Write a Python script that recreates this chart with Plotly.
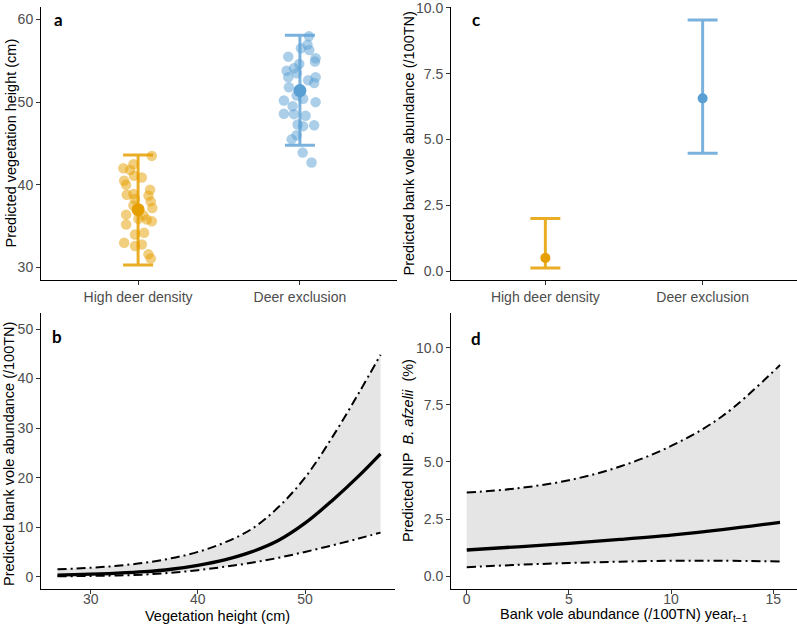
import plotly.graph_objects as go

# ---------------- data ----------------
categories = ["High deer density", "Deer exclusion"]

# panel a: predicted vegetation height (cm)
veg_mean = [37.0, 51.4]
veg_low = [30.3, 44.8]
veg_high = [43.6, 58.1]
veg_pts_high_deer = [43.5, 42.0, 42.5, 41.8, 40.9, 41.1, 40.5, 40.0, 38.8, 38.9, 39.4, 38.7,
                     38.0, 37.2, 37.5, 36.4, 35.2, 36.3, 35.8, 35.6, 34.0, 34.2, 33.0, 32.6,
                     32.8, 31.6, 31.1, 35.9, 38.3]
veg_jit_high_deer = [0.085, -0.091, -0.029, -0.049, 0.023, -0.025, -0.086, -0.074, -0.070, -0.029,
                     0.074, 0.064, 0.078, 0.088, -0.029, -0.074, -0.074, 0.033, 0.054, 0.085,
                     -0.019, 0.037, -0.086, -0.019, 0.023, 0.064, 0.078, 0.002, -0.020]
veg_pts_exclusion = [57.95, 56.95, 56.5, 56.3, 55.5, 55.3, 54.9, 54.6, 54.1, 53.8, 53.5, 53.0,
                     53.0, 52.65, 52.3, 51.8, 50.8, 50.4, 50.2, 50.0, 49.5, 48.6, 48.55, 48.35,
                     47.3, 47.1, 47.2, 46.0, 45.5, 43.9, 42.7]
veg_jit_exclusion = [0.056, 0.047, 0.006, 0.058, -0.072, 0.097, 0.093, -0.004, -0.037, -0.082,
                     -0.020, -0.072, 0.097, 0.051, 0.088, -0.068, -0.020, 0.020, -0.099, 0.097,
                     -0.045, -0.099, -0.037, 0.035, -0.014, 0.020, 0.088, -0.020, -0.051, 0.017,
                     0.072]

# panel c: predicted bank vole abundance (/100TN)
vole_mean = [0.50, 6.56]
vole_low = [0.12, 4.47]
vole_high = [2.0, 9.54]

# panel b: vole abundance vs vegetation height
b_x = [26.9, 30, 32.5, 35, 37.5, 40, 42.5, 45, 47.5, 50, 52.5, 55, 57.05]
b_fit = [0.3, 0.5, 0.7, 1.0, 1.5, 2.3, 3.4, 5.0, 7.3, 10.8, 15.3, 20.3, 24.8]
b_upr = [1.5, 1.8, 2.2, 2.8, 3.7, 5.0, 6.9, 9.6, 14.0, 20.0, 28.0, 37.0, 44.8]
b_lwr = [0.08, 0.15, 0.25, 0.42, 0.8, 1.3, 2.0, 2.8, 3.8, 5.0, 6.3, 7.7, 8.9]

# panel d: NIP B. afzelii vs vole abundance year t-1
d_x = [0, 2.5, 5, 7.5, 10, 12.5, 15.33]
d_fit = [1.15, 1.29, 1.44, 1.61, 1.80, 2.04, 2.36]
d_upr = [3.66, 3.85, 4.20, 4.80, 5.70, 7.00, 9.24]
d_lwr = [0.40, 0.50, 0.58, 0.64, 0.68, 0.68, 0.65]

# ---------------- styling ----------------
ORANGE = "#E69F00"
BLUE = "#5A9FD4"
ORANGE_BAR = "rgba(230,159,0,0.85)"
BLUE_BAR = "rgba(90,159,212,0.8)"
ORANGE_PT = "rgba(230,159,0,0.5)"
BLUE_PT = "rgba(90,159,212,0.5)"
FONT = "Liberation Sans, Arial, sans-serif"
W, H = 797, 626

fig = go.Figure()

# ---- panel a ----
fig.add_trace(go.Scatter(x=[1 + j for j in veg_jit_high_deer], y=veg_pts_high_deer, mode="markers",
                         marker=dict(size=10.5, color=ORANGE_PT, line=dict(width=0)),
                         xaxis="x", yaxis="y"))
fig.add_trace(go.Scatter(x=[2 + j for j in veg_jit_exclusion], y=veg_pts_exclusion, mode="markers",
                         marker=dict(size=10.5, color=BLUE_PT, line=dict(width=0)),
                         xaxis="x", yaxis="y"))
for i, (col, bcol) in enumerate([(ORANGE, ORANGE_BAR), (BLUE, BLUE_BAR)]):
    fig.add_trace(go.Scatter(
        x=[i + 1], y=[veg_mean[i]], mode="markers",
        marker=dict(size=13, color=col, line=dict(width=0)),
        error_y=dict(type="data", symmetric=False,
                     array=[veg_high[i] - veg_mean[i]],
                     arrayminus=[veg_mean[i] - veg_low[i]],
                     color=bcol, thickness=3, width=15),
        xaxis="x", yaxis="y"))

# ---- panel c ----
for i, (col, bcol) in enumerate([(ORANGE, ORANGE_BAR), (BLUE, BLUE_BAR)]):
    fig.add_trace(go.Scatter(
        x=[i + 1], y=[vole_mean[i]], mode="markers",
        marker=dict(size=10, color=col, line=dict(width=0)),
        error_y=dict(type="data", symmetric=False,
                     array=[vole_high[i] - vole_mean[i]],
                     arrayminus=[vole_mean[i] - vole_low[i]],
                     color=bcol, thickness=3, width=15),
        xaxis="x2", yaxis="y2"))

DASH = "9px,4px,2px,4px"

def ribbon(xs, lo, hi, fit, xa, ya):
    fig.add_trace(go.Scatter(x=xs, y=lo, mode="lines", line=dict(width=0, shape="spline"),
                             xaxis=xa, yaxis=ya, hoverinfo="skip"))
    fig.add_trace(go.Scatter(x=xs, y=hi, mode="lines", line=dict(width=0, shape="spline"),
                             fill="tonexty", fillcolor="#E5E5E5",
                             xaxis=xa, yaxis=ya, hoverinfo="skip"))
    fig.add_trace(go.Scatter(x=xs, y=hi, mode="lines",
                             line=dict(color="black", width=2, dash=DASH, shape="spline"),
                             xaxis=xa, yaxis=ya))
    fig.add_trace(go.Scatter(x=xs, y=lo, mode="lines",
                             line=dict(color="black", width=2, dash=DASH, shape="spline"),
                             xaxis=xa, yaxis=ya))
    fig.add_trace(go.Scatter(x=xs, y=fit, mode="lines",
                             line=dict(color="black", width=3.3, shape="spline"),
                             xaxis=xa, yaxis=ya))

ribbon(b_x, b_lwr, b_upr, b_fit, "x3", "y3")
ribbon(d_x, d_lwr, d_upr, d_fit, "x4", "y4")

# ---------------- axes ----------------
def ax(domain, rng, **kw):
    d = dict(domain=domain, range=rng, showline=True, linecolor="black", linewidth=1,
             ticks="outside", ticklen=4, tickwidth=1, tickcolor="#333333",
             tickfont=dict(family=FONT, size=14, color="#4D4D4D"),
             ticklabeloverflow="allow", automargin=False,
             showgrid=False, zeroline=False, mirror=False)
    d.update(kw)
    return d

def px_x(p):
    return p / W

def px_y(p):
    return 1 - p / H

xa_left = [px_x(41), px_x(397)]
xa_left_b = [px_x(41), px_x(395)]
xa_right = [px_x(451), 1.0]
ya_top = [px_y(280), px_y(7)]
ya_bot = [px_y(589.3), px_y(312.7)]

fig.update_layout(
    xaxis=ax(xa_left, [0.4, 2.6], anchor="y", tickvals=[1, 2], ticktext=categories),
    yaxis=ax(ya_top, [28.5, 61.5], anchor="x", tickvals=[30, 40, 50, 60]),
    xaxis2=ax(xa_right, [0.4, 2.6], anchor="y2", tickvals=[1, 2], ticktext=categories),
    yaxis2=ax(ya_top, [-0.34, 10.03], anchor="x2", tickvals=[0, 2.5, 5, 7.5, 10],
              ticktext=["0.0", "2.5", "5.0", "7.5", "10.0"]),
    xaxis3=ax(xa_left_b, [25.36, 58.4], anchor="y3", tickvals=[30, 40, 50],
              ticklabelstandoff=-7),
    yaxis3=ax(ya_bot, [-2.55, 53.3], anchor="x3", tickvals=[0, 10, 20, 30, 40, 50]),
    xaxis4=ax(xa_right, [-0.77, 16.16], anchor="y4", tickvals=[0, 5, 10, 15],
              ticklabelstandoff=-7),
    yaxis4=ax(ya_bot, [-0.57, 11.53], anchor="x4", tickvals=[0, 2.5, 5, 7.5, 10],
              ticktext=["0.0", "2.5", "5.0", "7.5", "10.0"]),
)

# ---------------- titles & labels ----------------
def ann(text, x, y, angle=0, size=14.5, bold=False, family=FONT, color="black"):
    fig.add_annotation(text=("<b>%s</b>" % text) if bold else text,
                       x=px_x(x), y=px_y(y), xref="paper", yref="paper",
                       xanchor="center", yanchor="middle", showarrow=False,
                       textangle=angle, font=dict(family=family, size=size, color=color))

ann("Predicted vegetation height (cm)", 10, 143.5, angle=-90)
ann("Predicted bank vole abundance (/100TN)", 408, 143.5, angle=-90)
ann("Predicted bank vole abundance (/100TN)", 9, 454, angle=-90)
ann("Predicted NIP\u00a0 <i>B. afzelii</i>\u00a0 (%)", 408, 451, angle=-90)
ann("Vegetation height (cm)", 218, 616)
ann("Bank vole abundance (/100TN) year<sub>t\u22121</sub>", 624, 615)

LETTER_FONT = "Lato, Open Sans, sans-serif"
ann("a", 58, 19, size=17, bold=True, family=LETTER_FONT)
ann("c", 476, 19, size=17, bold=True, family=LETTER_FONT)
ann("b", 57, 336, size=17, bold=True, family=LETTER_FONT)
ann("d", 476, 338, size=17, bold=True, family=LETTER_FONT)

fig.update_layout(width=W, height=H, margin=dict(l=0, r=0, t=0, b=0, autoexpand=False),
                  paper_bgcolor="white", plot_bgcolor="white", showlegend=False,
                  font=dict(family=FONT))

# remove the browser's default 8px body margin so the figure sits at the page origin
fig.write_html("out.html", config={"displayModeBar": False},
               post_script="document.body.style.margin='0';")
